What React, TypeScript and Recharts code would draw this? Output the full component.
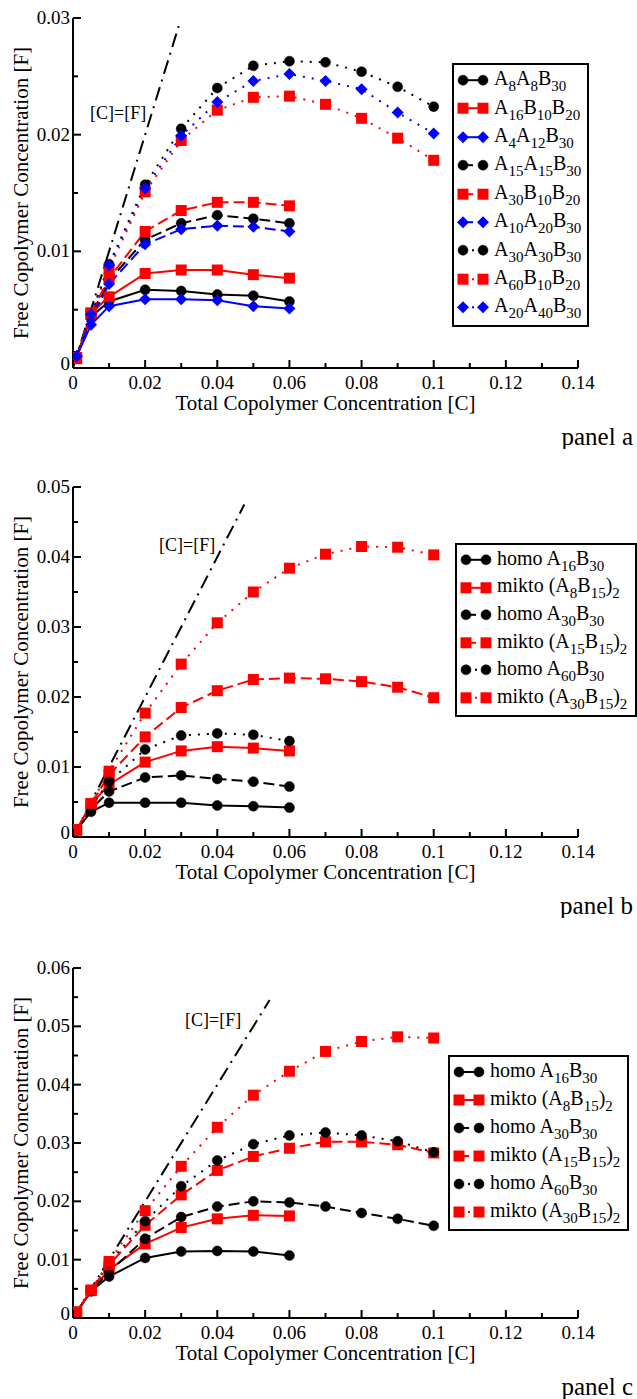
import React from 'react';
import { LineChart, Line, XAxis, YAxis, Legend, Customized } from 'recharts';

const FONT = '"Liberation Serif", "DejaVu Serif", serif';

// ---------- shared x data ----------
const concentrations = [0.001, 0.005, 0.01, 0.02, 0.03, 0.04, 0.05, 0.06, 0.07, 0.08, 0.09, 0.1];
const xTicks = [0, 0.01, 0.02, 0.03, 0.04, 0.05, 0.06, 0.07, 0.08, 0.09, 0.1, 0.11, 0.12, 0.13, 0.14];
const xLabelStep = 0.02;

// ---------- panel a ----------
const a_A8A8B30 = [0.001, 0.0044, 0.0057, 0.0067, 0.0066, 0.0063, 0.0062, 0.0057];
const a_A16B10B20 = [0.0008, 0.0047, 0.0061, 0.0081, 0.0084, 0.0084, 0.008, 0.0077];
const a_A4A12B30 = [0.001, 0.0037, 0.0053, 0.0059, 0.0059, 0.0058, 0.0053, 0.0051];
const a_A15A15B30 = [0.001, 0.0045, 0.0075, 0.011, 0.0124, 0.0131, 0.0128, 0.0124];
const a_A30B10B20 = [0.0009, 0.0047, 0.0077, 0.0117, 0.0135, 0.0142, 0.0142, 0.0139];
const a_A10A20B30 = [0.001, 0.0042, 0.0072, 0.0106, 0.0119, 0.0122, 0.0121, 0.0117];
const a_A30A30B30 = [0.001, 0.0046, 0.0089, 0.0157, 0.0205, 0.024, 0.0259, 0.0263, 0.0262, 0.0254, 0.0241, 0.0224];
const a_A60B10B20 = [0.0009, 0.0047, 0.0085, 0.0151, 0.0195, 0.0221, 0.0232, 0.0233, 0.0226, 0.0214, 0.0197, 0.0178];
const a_A20A40B30 = [0.001, 0.0046, 0.0088, 0.0154, 0.0199, 0.0228, 0.0246, 0.0252, 0.0246, 0.0239, 0.0219, 0.0201];
const a_yTicks = [0, 0.005, 0.01, 0.015, 0.02, 0.025, 0.03];
const a_identityEnd = 0.0293;

// ---------- panel b ----------
const b_homoA16B30 = [0.001, 0.0036, 0.0049, 0.0049, 0.0049, 0.0045, 0.0044, 0.0042];
const b_miktoA8B15 = [0.001, 0.0047, 0.0075, 0.0107, 0.0123, 0.0129, 0.0127, 0.0123];
const b_homoA30B30 = [0.001, 0.004, 0.0065, 0.0085, 0.0088, 0.0083, 0.0079, 0.0072];
const b_miktoA15B15 = [0.001, 0.0047, 0.0089, 0.0143, 0.0185, 0.0209, 0.0225, 0.0227, 0.0226, 0.0222, 0.0214, 0.0199];
const b_homoA60B30 = [0.001, 0.0043, 0.0079, 0.0125, 0.0145, 0.0148, 0.0146, 0.0137];
const b_miktoA30B15 = [0.001, 0.0048, 0.0094, 0.0177, 0.0247, 0.0306, 0.035, 0.0384, 0.0404, 0.0415, 0.0414, 0.0403];
const b_yTicks = [0, 0.005, 0.01, 0.015, 0.02, 0.025, 0.03, 0.035, 0.04, 0.045, 0.05];
const b_identityEnd = 0.0475;

// ---------- panel c ----------
const c_homoA16B30 = [0.001, 0.0046, 0.0071, 0.0103, 0.0114, 0.0115, 0.0114, 0.0107];
const c_miktoA8B15 = [0.001, 0.0047, 0.0083, 0.0127, 0.0155, 0.017, 0.0176, 0.0175];
const c_homoA30B30 = [0.001, 0.0046, 0.0079, 0.0136, 0.0173, 0.0191, 0.02, 0.0198, 0.0191, 0.018, 0.017, 0.0158];
const c_miktoA15B15 = [0.001, 0.0047, 0.0091, 0.0159, 0.0211, 0.0253, 0.0277, 0.0291, 0.0302, 0.0302, 0.0297, 0.0283];
const c_homoA60B30 = [0.001, 0.0047, 0.0094, 0.0166, 0.0226, 0.027, 0.0298, 0.0313, 0.0318, 0.0313, 0.0303, 0.0284];
const c_miktoA30B15 = [0.001, 0.0048, 0.0097, 0.0184, 0.026, 0.0327, 0.0382, 0.0423, 0.0457, 0.0474, 0.0482, 0.048];
const c_yTicks = [0, 0.005, 0.01, 0.015, 0.02, 0.025, 0.03, 0.035, 0.04, 0.045, 0.05, 0.055, 0.06];
const c_identityEnd = 0.0545;

// ---------- styles ----------
const BLACK = '#000000';
const RED = '#ff0000';
const BLUE = '#0000ff';
const DASH: Record<string, string | undefined> = {
  solid: undefined,
  dashed: '11 5',
  dotted: '2 7',
};

type Series = { name: string; values: number[]; color: string; shape: string; style: string };

const toPoints = (vals: number[]) => vals.map((y, i) => ({ x: concentrations[i], y }));

function Marker({ cx, cy, shape, color }: { cx: number; cy: number; shape: string; color: string }) {
  if (shape === 'circle') return <circle cx={cx} cy={cy} r={5} fill={color} stroke={color} strokeWidth={0.5} />;
  if (shape === 'square') return <rect x={cx - 5.5} y={cy - 5.5} width={11} height={11} fill={color} />;
  return <polygon points={`${cx},${cy - 6} ${cx + 6},${cy} ${cx},${cy + 6} ${cx - 6},${cy}`} fill={color} />;
}

function renderLabel(label: string, subSize: number) {
  const parts = label.split(/_(\d+)/);
  return parts.map((p, i) =>
    i % 2 === 1 ? (
      <span key={i} style={{ fontSize: subSize, position: 'relative', top: 6 }}>{p}</span>
    ) : (
      <span key={i}>{p}</span>
    )
  );
}

function LegendBox({ series, width, rowH }: { series: Series[]; width: number; rowH: number }) {
  return (
    <div
      style={{
        border: '2px solid #000',
        background: '#fff',
        width,
        boxSizing: 'border-box',
        padding: '1px 0 3px 0',
        fontFamily: FONT,
        color: '#000',
      }}
    >
      {series.map((s) => (
        <div key={s.name} style={{ height: rowH, display: 'flex', alignItems: 'center' }}>
          <svg width={40} height={rowH} style={{ flex: '0 0 auto' }}>
            {s.style === 'solid' && <line x1={9} x2={29} y1={rowH / 2} y2={rowH / 2} stroke={s.color} strokeWidth={2} />}
            {s.style === 'dashed' && <line x1={9} x2={19} y1={rowH / 2} y2={rowH / 2} stroke={s.color} strokeWidth={2} />}
            {s.style === 'dotted' && <line x1={18} x2={20} y1={rowH / 2} y2={rowH / 2} stroke={s.color} strokeWidth={2} />}
            <Marker cx={9} cy={rowH / 2} shape={s.shape} color={s.color} />
            <Marker cx={29} cy={rowH / 2} shape={s.shape} color={s.color} />
          </svg>
          <span style={{ fontSize: 20, whiteSpace: 'nowrap', lineHeight: 1, marginTop: -4 }}>{renderLabel(s.name, 15)}</span>
        </div>
      ))}
    </div>
  );
}

const isMultiple = (v: number, step: number) => Math.abs(v / step - Math.round(v / step)) < 1e-6;
const fmt = (v: number) => (v === 0 ? '0' : String(parseFloat(v.toFixed(4))));

const axisLineStyle = { stroke: '#000', strokeWidth: 2 };

type PanelCfg = {
  yMax: number;
  yTicks: number[];
  series: Series[];
  identityEnd: number;
  identityLabel: { x: number; y: number };
  legend: { left: number; top: number; width: number; rowH: number };
  panelName: string;
};

const panels: PanelCfg[] = [
  {
    yMax: 0.03,
    yTicks: a_yTicks,
    identityEnd: a_identityEnd,
    identityLabel: { x: 90, y: 119 },
    legend: { left: 452, top: 63, width: 137, rowH: 28.4 },
    panelName: 'panel a',
    series: [
      { name: 'A_8A_8B_30', values: a_A8A8B30, color: BLACK, shape: 'circle', style: 'solid' },
      { name: 'A_16B_10B_20', values: a_A16B10B20, color: RED, shape: 'square', style: 'solid' },
      { name: 'A_4A_12B_30', values: a_A4A12B30, color: BLUE, shape: 'diamond', style: 'solid' },
      { name: 'A_15A_15B_30', values: a_A15A15B30, color: BLACK, shape: 'circle', style: 'dashed' },
      { name: 'A_30B_10B_20', values: a_A30B10B20, color: RED, shape: 'square', style: 'dashed' },
      { name: 'A_10A_20B_30', values: a_A10A20B30, color: BLUE, shape: 'diamond', style: 'dashed' },
      { name: 'A_30A_30B_30', values: a_A30A30B30, color: BLACK, shape: 'circle', style: 'dotted' },
      { name: 'A_60B_10B_20', values: a_A60B10B20, color: RED, shape: 'square', style: 'dotted' },
      { name: 'A_20A_40B_30', values: a_A20A40B30, color: BLUE, shape: 'diamond', style: 'dotted' },
    ],
  },
  {
    yMax: 0.05,
    yTicks: b_yTicks,
    identityEnd: b_identityEnd,
    identityLabel: { x: 159, y: 82 },
    legend: { left: 455, top: 74, width: 182, rowH: 27.6 },
    panelName: 'panel b',
    series: [
      { name: 'homo A_16B_30', values: b_homoA16B30, color: BLACK, shape: 'circle', style: 'solid' },
      { name: 'mikto (A_8B_15)_2', values: b_miktoA8B15, color: RED, shape: 'square', style: 'solid' },
      { name: 'homo A_30B_30', values: b_homoA30B30, color: BLACK, shape: 'circle', style: 'dashed' },
      { name: 'mikto (A_15B_15)_2', values: b_miktoA15B15, color: RED, shape: 'square', style: 'dashed' },
      { name: 'homo A_60B_30', values: b_homoA60B30, color: BLACK, shape: 'circle', style: 'dotted' },
      { name: 'mikto (A_30B_15)_2', values: b_miktoA30B15, color: RED, shape: 'square', style: 'dotted' },
    ],
  },
  {
    yMax: 0.06,
    yTicks: c_yTicks,
    identityEnd: c_identityEnd,
    identityLabel: { x: 185, y: 76 },
    legend: { left: 448, top: 105, width: 181, rowH: 28 },
    panelName: 'panel c',
    series: [
      { name: 'homo A_16B_30', values: c_homoA16B30, color: BLACK, shape: 'circle', style: 'solid' },
      { name: 'mikto (A_8B_15)_2', values: c_miktoA8B15, color: RED, shape: 'square', style: 'solid' },
      { name: 'homo A_30B_30', values: c_homoA30B30, color: BLACK, shape: 'circle', style: 'dashed' },
      { name: 'mikto (A_15B_15)_2', values: c_miktoA15B15, color: RED, shape: 'square', style: 'dashed' },
      { name: 'homo A_60B_30', values: c_homoA60B30, color: BLACK, shape: 'circle', style: 'dotted' },
      { name: 'mikto (A_30B_15)_2', values: c_miktoA30B15, color: RED, shape: 'square', style: 'dotted' },
    ],
  },
];

const panelTops = [0, 469, 950];

const W = 637;
const H = 449;
const M = { top: 18, right: 59, bottom: 41, left: 0 };
const Y_AXIS_W = 73;
const X_AXIS_H = 40;
const PLOT_W = W - M.right - Y_AXIS_W;
const PLOT_H = H - M.top - M.bottom - X_AXIS_H;

function Panel({ cfg, top }: { cfg: PanelCfg; top: number }) {
  const identity = [
    { x: 0, y: 0 },
    { x: cfg.identityEnd, y: cfg.identityEnd },
  ];
  const yLabelStep = 0.01;
  return (
    <div style={{ position: 'absolute', left: 0, top, width: W, height: H }}>
      <LineChart width={W} height={H} margin={M}>
        <XAxis
          xAxisId="b"
          type="number"
          dataKey="x"
          domain={[0, 0.14]}
          allowDataOverflow
          ticks={xTicks}
          interval={0}
          height={X_AXIS_H}
          tickSize={0}
          tickMargin={0}
          tickLine={false}
          axisLine={axisLineStyle}
          tick={(p: any) => {
            const v = p.payload.value;
            const major = isMultiple(v, xLabelStep);
            return (
              <g key={`xb-${v}`}>
                <line x1={p.x} x2={p.x} y1={p.y} y2={p.y - (major ? 8 : 5)} stroke="#000" strokeWidth={2} />
                {major && (
                  <text x={p.x} y={p.y + 21} textAnchor="middle" fontSize={19} fontFamily={FONT} fill="#000">
                    {fmt(v)}
                  </text>
                )}
              </g>
            );
          }}
        />
        <XAxis
          xAxisId="t"
          orientation="top"
          type="number"
          dataKey="x"
          domain={[0, 0.14]}
          allowDataOverflow
          ticks={xTicks}
          interval={0}
          height={0}
          tickSize={0}
          tickMargin={0}
          tickLine={false}
          axisLine={axisLineStyle}
          tick={(p: any) => {
            const v = p.payload.value;
            const major = isMultiple(v, xLabelStep);
            return (
              <line key={`xt-${v}`} x1={p.x} x2={p.x} y1={p.y} y2={p.y + (major ? 8 : 5)} stroke="#000" strokeWidth={2} />
            );
          }}
        />
        <YAxis
          yAxisId="l"
          type="number"
          domain={[0, cfg.yMax]}
          allowDataOverflow
          ticks={cfg.yTicks}
          interval={0}
          width={Y_AXIS_W}
          tickSize={0}
          tickMargin={0}
          tickLine={false}
          axisLine={axisLineStyle}
          tick={(p: any) => {
            const v = p.payload.value;
            const major = isMultiple(v, yLabelStep);
            return (
              <g key={`yl-${v}`}>
                <line x1={p.x} x2={p.x + (major ? 8 : 5)} y1={p.y} y2={p.y} stroke="#000" strokeWidth={2} />
                {major && (
                  <text x={p.x - 3} y={v === 0 ? p.y + 2 : p.y + 6} textAnchor="end" fontSize={19} fontFamily={FONT} fill="#000">
                    {fmt(v)}
                  </text>
                )}
              </g>
            );
          }}
        />
        <YAxis
          yAxisId="r"
          orientation="right"
          type="number"
          domain={[0, cfg.yMax]}
          allowDataOverflow
          ticks={cfg.yTicks}
          interval={0}
          width={0}
          tickSize={0}
          tickMargin={0}
          tickLine={false}
          axisLine={axisLineStyle}
          tick={(p: any) => {
            const v = p.payload.value;
            const major = isMultiple(v, yLabelStep);
            return (
              <line key={`yr-${v}`} x1={p.x} x2={p.x - (major ? 8 : 5)} y1={p.y} y2={p.y} stroke="#000" strokeWidth={2} />
            );
          }}
        />
        <Line
          xAxisId="b"
          yAxisId="l"
          data={identity}
          dataKey="y"
          stroke="#000"
          strokeWidth={2}
          strokeDasharray="14 6 2 6"
          dot={false}
          activeDot={false}
          legendType="none"
          isAnimationActive={false}
        />
        {cfg.series.map((s) => (
          <Line
            key={s.name}
            xAxisId="b"
            yAxisId="l"
            data={toPoints(s.values)}
            dataKey="y"
            name={s.name}
            stroke={s.color}
            strokeWidth={2}
            strokeDasharray={DASH[s.style]}
            activeDot={false}
            isAnimationActive={false}
            dot={(p: any) => <Marker key={`${s.name}-${p.index}`} cx={p.cx} cy={p.cy} shape={s.shape} color={s.color} />}
          />
        ))}
        <Legend
          layout="vertical"
          align="center"
          verticalAlign="middle"
          wrapperStyle={{ position: 'absolute', left: cfg.legend.left, top: cfg.legend.top, width: 'auto', height: 'auto' }}
          content={() => <LegendBox series={cfg.series} width={cfg.legend.width} rowH={cfg.legend.rowH} />}
        />
        <Customized
          component={() => (
            <g fontFamily={FONT} fill="#000">
              <text x={cfg.identityLabel.x} y={cfg.identityLabel.y} fontSize={18}>
                [C]=[F]
              </text>
              <text x={Y_AXIS_W + PLOT_W / 2} y={M.top + PLOT_H + 42} fontSize={21} textAnchor="middle">
                Total Copolymer Concentration [C]
              </text>
              <text
                x={28}
                y={M.top + PLOT_H / 2}
                fontSize={21}
                textAnchor="middle"
                transform={`rotate(-90 28 ${M.top + PLOT_H / 2})`}
              >
                Free Copolymer Concentration [F]
              </text>
              <text x={W - 4} y={M.top + PLOT_H + 77} fontSize={25} textAnchor="end">
                {cfg.panelName}
              </text>
            </g>
          )}
        />
      </LineChart>
    </div>
  );
}

export default function App() {
  return (
    <div style={{ position: 'absolute', left: 0, top: 0, width: W, height: 1399, background: '#fff' }}>
      {panels.map((cfg, i) => (
        <Panel key={cfg.panelName} cfg={cfg} top={panelTops[i]} />
      ))}
    </div>
  );
}
